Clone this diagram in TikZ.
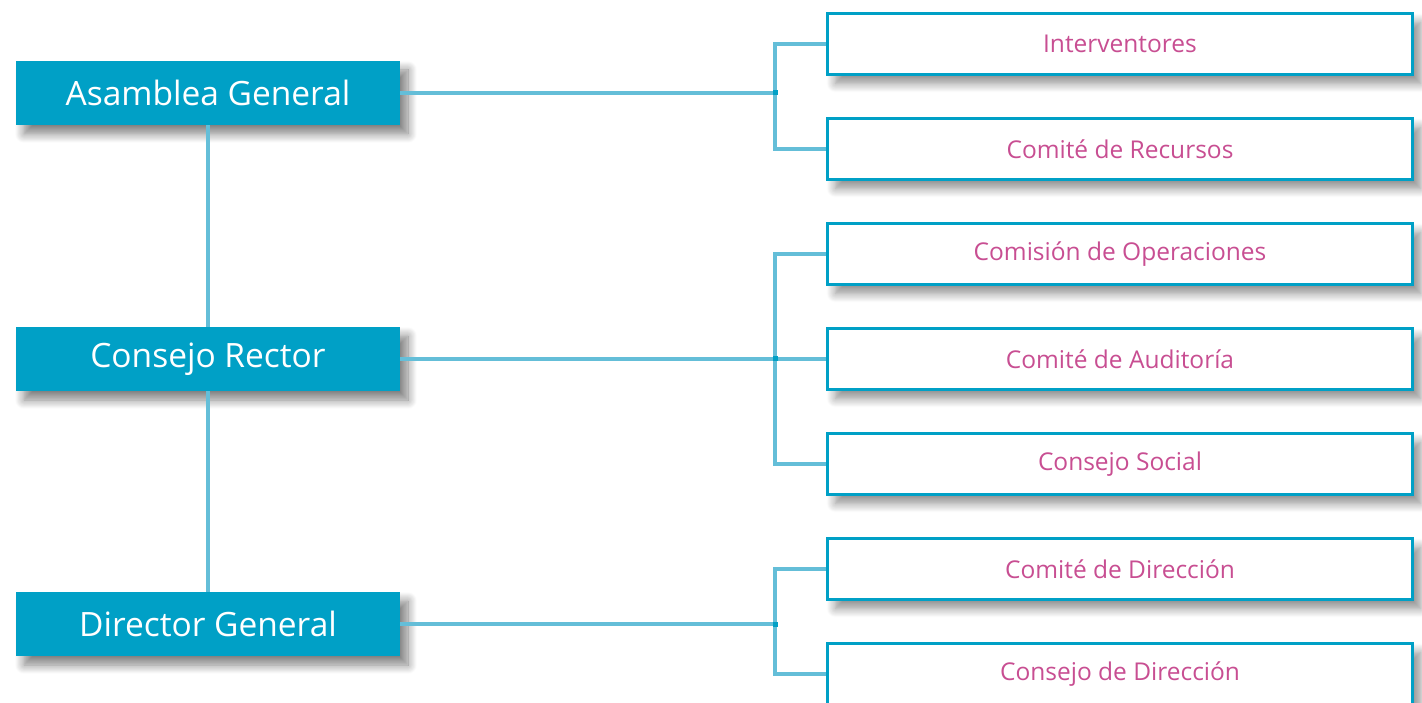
\documentclass[tikz,border=0pt]{standalone}
\usepackage{fontspec}
\setmainfont{Open Sans}
\usetikzlibrary{shadows.blur}
\definecolor{boxblue}{RGB}{0,160,198}
\definecolor{linkblue}{RGB}{100,190,216}
\definecolor{txtpink}{RGB}{200,78,146}
\begin{document}
\begin{tikzpicture}[x=1pt,y=-1pt,
  mainbox/.style={fill=boxblue, text=white, minimum width=384pt, minimum height=64pt, inner sep=0pt,
    font=\fontsize{33.5}{38}\selectfont,
    blur shadow={shadow xshift=8pt, shadow yshift=-9pt, shadow blur steps=12, shadow blur radius=9pt, shadow opacity=50}},
  subbox/.style={draw=boxblue, line width=3pt, fill=white, text=txtpink, minimum width=585pt, minimum height=61pt, inner sep=0pt,
    font=\fontsize{24.5}{30}\selectfont,
    blur shadow={shadow xshift=8pt, shadow yshift=-9pt, shadow blur steps=12, shadow blur radius=9pt, shadow opacity=45}},
  link/.style={draw=linkblue, line width=4pt},
  dot/.style={fill=boxblue, minimum size=5pt, inner sep=0pt}]
\useasboundingbox (0,0) rectangle (1422,703);
\clip (0,0) rectangle (1422,703);

\node[mainbox] (ag) at (208,93) {Asamblea General};
\node[mainbox] (cr) at (208,359) {Consejo Rector};
\node[mainbox] (dg) at (208,624) {Director General};

\node[subbox] (int) at (1120,44) {Interventores};
\node[subbox] (rec) at (1120,149) {Comité de Recursos};
\node[subbox] (ope) at (1120,254) {Comisión de Operaciones};
\node[subbox] (aud) at (1120,359) {Comité de Auditoría};
\node[subbox] (soc) at (1120,464) {Consejo Social};
\node[subbox] (dir) at (1120,569) {Comité de Dirección};
\node[subbox] (cdd) at (1120,674) {Consejo de Dirección};

\coordinate (j1) at (775,93);
\coordinate (j2) at (775,359);
\coordinate (j3) at (775,624);

\draw[link] (ag.south) -- (cr.north);
\draw[link] (cr.south) -- (dg.north);

\draw[link] (ag.east) -- (j1);
\draw[link] (int.west) -| (j1) |- (rec.west);
\draw[link] (cr.east) -- (j2);
\draw[link] (ope.west) -| (j2) |- (soc.west);
\draw[link] (aud.west) -- (j2);
\draw[link] (dg.east) -- (j3);
\draw[link] (dir.west) -| (j3) |- (cdd.west);

\node[dot] (d1) at (j1) {};
\node[dot] (d2) at (j2) {};
\node[dot] (d3) at (j3) {};
\end{tikzpicture}
\end{document}
